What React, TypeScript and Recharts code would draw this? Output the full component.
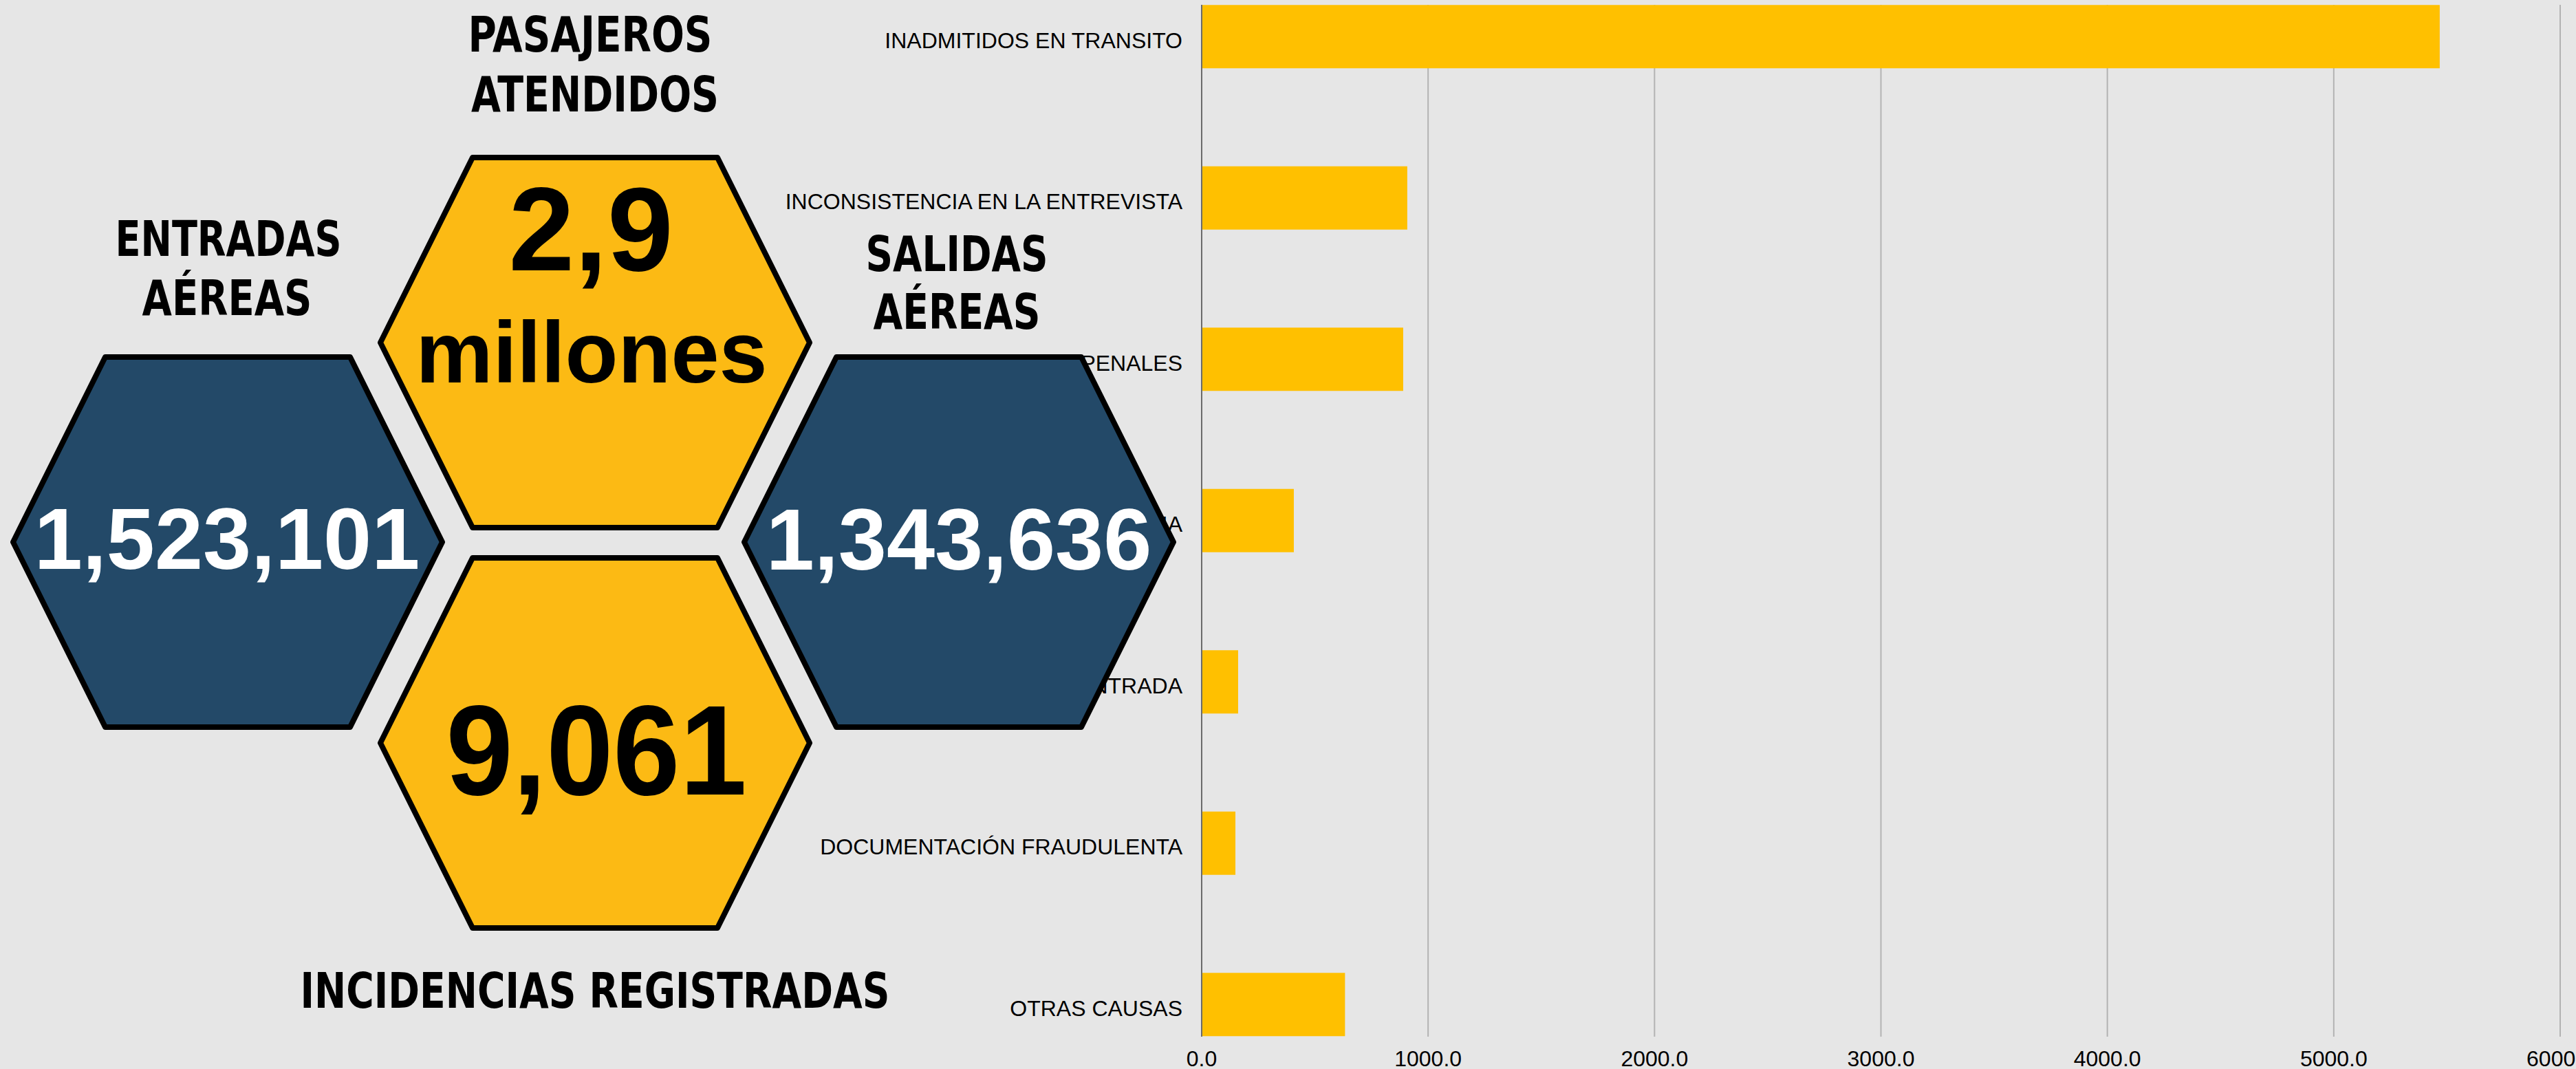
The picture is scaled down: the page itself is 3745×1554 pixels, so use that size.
import React from 'react';
import { BarChart, Bar, XAxis, YAxis, CartesianGrid } from 'recharts';

const CAUSAS = [
  'INADMITIDOS EN TRANSITO',
  'INCONSISTENCIA EN LA ENTREVISTA',
  'ANTECEDENTES PENALES',
  'ALERTA MIGRATORIA',
  'IMPEDIMENTO DE ENTRADA',
  'DOCUMENTACIÓN FRAUDULENTA',
  'OTRAS CAUSAS',
];
const INCIDENCIAS = [5468, 908, 890, 407, 161, 149, 633];
const X_TICKS = [0, 1000, 2000, 3000, 4000, 5000, 6000];

const ENTRADAS = '1,523,101';
const SALIDAS = '1,343,636';
const PASAJEROS = ['2,9', 'millones'];
const TOTAL_INCIDENCIAS = '9,061';

const W = 3745;
const H = 1554;
const BG = '#e6e6e6';
const BAR_COLOR = '#FFC000';
const HEX_YELLOW = '#FCBA14';
const HEX_BLUE = '#234968';
const SANS = '"Liberation Sans", Arial, sans-serif';
const TITLE_FONT = '"DejaVu Sans Condensed", "DejaVu Sans", sans-serif';

const data = CAUSAS.map((causa, i) => ({ causa, valor: INCIDENCIAS[i] }));

function hexPoints(cx: number, cy: number) {
  const hw = 312;
  const tw = 178;
  const hh = 269;
  return [
    [cx - tw, cy - hh],
    [cx + tw, cy - hh],
    [cx + hw, cy],
    [cx + tw, cy + hh],
    [cx - tw, cy + hh],
    [cx - hw, cy],
  ]
    .map((p) => p.join(','))
    .join(' ');
}

function Title({ x, y, w, text }: { x: number; y: number; w: number; text: string }) {
  return (
    <text
      x={x}
      y={y}
      textAnchor="middle"
      fontFamily={TITLE_FONT}
      fontWeight="bold"
      fontSize={72}
      fill="#000"
      textLength={w}
      lengthAdjust="spacingAndGlyphs"
    >
      {text}
    </text>
  );
}

function Overlay() {
  return (
    <svg
      width={W}
      height={H}
      style={{ position: 'absolute', left: 0, top: 0, pointerEvents: 'none' }}
    >
      <polygon points={hexPoints(865, 498)} fill={HEX_YELLOW} stroke="#000" strokeWidth={8} strokeLinejoin="round" />
      <polygon points={hexPoints(865, 1080)} fill={HEX_YELLOW} stroke="#000" strokeWidth={8} strokeLinejoin="round" />
      <polygon points={hexPoints(331, 788)} fill={HEX_BLUE} stroke="#000" strokeWidth={8} strokeLinejoin="round" />
      <polygon points={hexPoints(1394, 788)} fill={HEX_BLUE} stroke="#000" strokeWidth={8} strokeLinejoin="round" />

      <text x={859} y={393} textAnchor="middle" fontFamily={SANS} fontWeight="bold" fontSize={172} fill="#000">
        {PASAJEROS[0]}
      </text>
      <text x={860} y={556} textAnchor="middle" fontFamily={SANS} fontWeight="bold" fontSize={126} fill="#000">
        {PASAJEROS[1]}
      </text>
      <text x={330} y={827} textAnchor="middle" fontFamily={SANS} fontWeight="bold" fontSize={126} fill="#fff">
        {ENTRADAS}
      </text>
      <text x={1394} y={828} textAnchor="middle" fontFamily={SANS} fontWeight="bold" fontSize={126} fill="#fff">
        {SALIDAS}
      </text>
      <text
        x={867}
        y={1155}
        textAnchor="middle"
        fontFamily={SANS}
        fontWeight="bold"
        fontSize={185}
        fill="#000"
        textLength={437}
        lengthAdjust="spacingAndGlyphs"
      >
        {TOTAL_INCIDENCIAS}
      </text>

      <Title x={858} y={75} w={355} text="PASAJEROS" />
      <Title x={865} y={162} w={360} text="ATENDIDOS" />
      <Title x={332} y={372} w={329} text="ENTRADAS" />
      <Title x={330} y={458} w={247} text="AÉREAS" />
      <Title x={1391} y={394} w={265} text="SALIDAS" />
      <Title x={1391} y={478} w={243} text="AÉREAS" />
      <Title x={865} y={1465} w={857} text="INCIDENCIAS REGISTRADAS" />
    </svg>
  );
}

export default function App() {
  return (
    <div style={{ position: 'absolute', left: 0, top: 0, width: W, height: H, background: BG, overflow: 'hidden' }}>
      <BarChart
        width={W}
        height={H}
        layout="vertical"
        data={data}
        margin={{ top: 7, right: 23, bottom: 7, left: 1047 }}
      >
        <CartesianGrid horizontal={false} vertical stroke="#b3b3b3" strokeWidth={2} />
        <XAxis
          type="number"
          domain={[0, 6000]}
          ticks={X_TICKS}
          interval={0}
          tickFormatter={(v: number) => v.toFixed(1)}
          axisLine={false}
          tickLine={false}
          tickSize={0}
          tickMargin={20}
          height={40}
          tick={{ fontSize: 32, fill: '#000', fontFamily: SANS }}
        />
        <YAxis
          type="category"
          dataKey="causa"
          width={700}
          interval={0}
          padding={{ top: -70.75, bottom: -70.75 }}
          axisLine={{ stroke: '#6b6b6b', strokeWidth: 2 }}
          tickLine={false}
          tickSize={0}
          tickMargin={28}
          tick={{ fontSize: 32, fill: '#000', fontFamily: SANS, dy: 5 }}
        />
        <Bar dataKey="valor" fill={BAR_COLOR} barSize={92} isAnimationActive={false} />
      </BarChart>
      <Overlay />
    </div>
  );
}
